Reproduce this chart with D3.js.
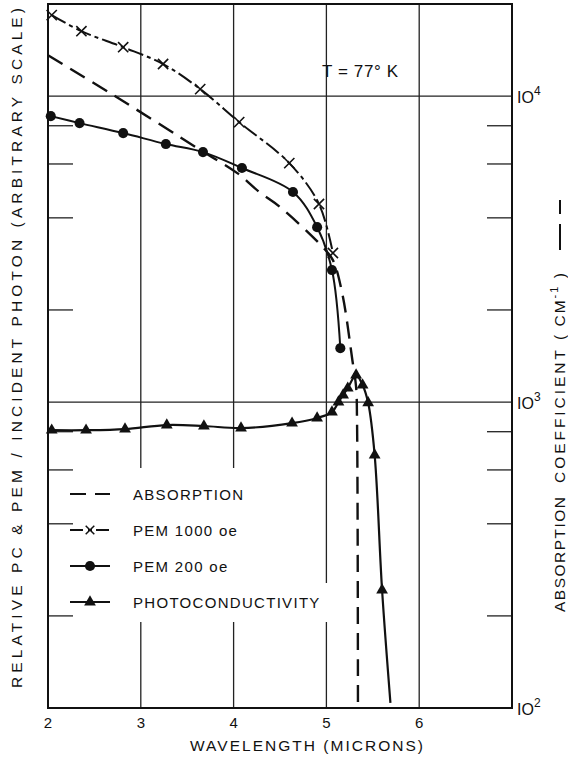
<!DOCTYPE html>
<html>
<head>
    <meta http-equiv="content-type" content="text/html; charset=utf-8">
    <title>PEM / PC / Absorption</title>
    <script src="https://cdn.jsdelivr.net/npm/d3@7/dist/d3.min.js"></script>
    <style>
        body { margin: 0; background: white; }
        svg text { font-family: "Liberation Sans", "DejaVu Sans", sans-serif; fill: #111; }
    </style>
</head>
<body>
    <svg width="568" height="761" id="mainsvg"></svg>
    <script>
        // ---- data ----
        const wavelengthTicks = [2, 3, 4, 5, 6];
        const gridWaves = [3, 4, 5, 6];
        const decadeValues = [100, 1000, 10000];
        const decadeExps = ['2', '3', '4'];
        const minorValues = [200, 400, 600, 800, 2000, 4000, 6000, 8000];

        const absWave = [2.0, 2.67, 3.64, 4.04, 4.28, 4.50, 4.96, 5.07, 5.17, 5.28, 5.32, 5.33, 5.34];
        const absValue = [13600, 10230, 6670, 5600, 4850, 4340, 3210, 2910, 2270, 1370, 1120, 870, 100];

        const pem1000Wave = [2.04, 2.36, 2.81, 3.24, 3.64, 4.06, 4.60, 4.92, 5.07];
        const pem1000Value = [18400, 16300, 14450, 12730, 10540, 8220, 6040, 4440, 3070];

        const pem200Wave = [2.03, 2.34, 2.81, 3.27, 3.67, 4.09, 4.64, 4.90, 5.06, 5.15];
        const pem200Value = [8600, 8160, 7570, 6970, 6560, 5820, 4860, 3730, 2700, 1500];

        const pcWave = [2.04, 2.41, 2.83, 3.28, 3.68, 4.08, 4.63, 4.90, 5.06, 5.13, 5.18, 5.23, 5.32, 5.39, 5.45, 5.52, 5.60];
        const pcValue = [809, 809, 816, 841, 835, 822, 853, 887, 927, 1000, 1054, 1110, 1225, 1137, 994, 671, 243];
        const pcTailWave = [5.69];
        const pcTailValue = [104];

        const legendLabels = ['ABSORPTION', 'PEM 1000 oe', 'PEM 200 oe', 'PHOTOCONDUCTIVITY'];

        // ---- layout ----
        const svg = d3.select('#mainsvg');
        const plotLeft = 48, plotRight = 512, plotTop = 4, plotBottom = 708;

        const xScale = d3.scaleLinear().domain([2, 7]).range([plotLeft, plotRight]);
        const yScale = d3.scaleLog().domain([100, 20000]).range([plotBottom, plotTop]);

        const zip = (xs, ys) => xs.map((x, i) => [x, ys[i]]);
        const line = d3.line()
            .x(d => xScale(d[0]))
            .y(d => yScale(d[1]))
            .curve(d3.curveCatmullRom.alpha(0.5));

        const g = svg.append('g');

        // grid
        g.selectAll('.vgrid').data(gridWaves).join('line')
            .attr('class', 'vgrid')
            .attr('x1', d => xScale(d)).attr('x2', d => xScale(d))
            .attr('y1', plotTop).attr('y2', plotBottom)
            .attr('stroke', '#222').attr('stroke-width', 1.3);
        g.selectAll('.hgrid').data([1000, 10000]).join('line')
            .attr('class', 'hgrid')
            .attr('x1', plotLeft).attr('x2', plotRight)
            .attr('y1', d => yScale(d)).attr('y2', d => yScale(d))
            .attr('stroke', '#222').attr('stroke-width', 1.3);

        // gaps in the grid where the legend sits
        g.append('rect').attr('x', 56).attr('y', 468).attr('width', 250).attr('height', 154).attr('fill', 'white');
        g.append('rect').attr('x', 300).attr('y', 583).attr('width', 40).attr('height', 39).attr('fill', 'white');

        // minor ticks on both sides
        g.selectAll('.ltick').data(minorValues).join('line')
            .attr('class', 'ltick')
            .attr('x1', plotLeft).attr('x2', plotLeft + 25)
            .attr('y1', d => yScale(d)).attr('y2', d => yScale(d))
            .attr('stroke', '#222').attr('stroke-width', 1.3);
        g.selectAll('.rtick').data(minorValues).join('line')
            .attr('class', 'rtick')
            .attr('x1', plotRight - 25).attr('x2', plotRight)
            .attr('y1', d => yScale(d)).attr('y2', d => yScale(d))
            .attr('stroke', '#222').attr('stroke-width', 1.3);

        // frame
        g.append('rect').attr('x', plotLeft).attr('y', plotTop)
            .attr('width', plotRight - plotLeft).attr('height', plotBottom - plotTop)
            .attr('fill', 'none').attr('stroke', '#111').attr('stroke-width', 2);

        // x tick labels
        g.selectAll('.xlab').data(wavelengthTicks).join('text')
            .attr('class', 'xlab')
            .attr('x', d => xScale(d)).attr('y', plotBottom + 20)
            .attr('text-anchor', 'middle').attr('font-size', 15)
            .text(d => d);

        // right decade labels
        const dec = g.selectAll('.ylab').data(decadeValues).join('text')
            .attr('class', 'ylab')
            .attr('x', plotRight + 5).attr('y', d => yScale(d) + 7)
            .attr('font-size', 16);
        dec.append('tspan').text('IO');
        dec.append('tspan').attr('dy', -8).attr('font-size', 12).text((d, i) => decadeExps[i]);

        // curves
        g.append('path').attr('d', line(zip(absWave, absValue)))
            .attr('fill', 'none').attr('stroke', '#111').attr('stroke-width', 2.4)
            .attr('stroke-dasharray', '17,9');

        g.append('path').attr('d', line(zip(pem1000Wave, pem1000Value)))
            .attr('fill', 'none').attr('stroke', '#111').attr('stroke-width', 2)
            .attr('stroke-dasharray', '16,4,4,4');

        g.append('path').attr('d', line(zip(pem200Wave, pem200Value)))
            .attr('fill', 'none').attr('stroke', '#111').attr('stroke-width', 2);

        g.append('path').attr('d', line(zip(pcWave, pcValue).concat(zip(pcTailWave, pcTailValue))))
            .attr('fill', 'none').attr('stroke', '#111').attr('stroke-width', 2.2);

        // markers
        const cross = d3.symbol().type(d3.symbolX).size(70);
        const dot = d3.symbol().type(d3.symbolCircle).size(80);
        const tri = d3.symbol().type(d3.symbolTriangle).size(60);

        g.selectAll('.m1000').data(zip(pem1000Wave, pem1000Value)).join('path')
            .attr('class', 'm1000')
            .attr('transform', d => `translate(${xScale(d[0])},${yScale(d[1])})`)
            .attr('d', cross).attr('fill', 'none').attr('stroke', '#111').attr('stroke-width', 1.6);
        g.selectAll('.m200').data(zip(pem200Wave, pem200Value)).join('path')
            .attr('class', 'm200')
            .attr('transform', d => `translate(${xScale(d[0])},${yScale(d[1])})`)
            .attr('d', dot).attr('fill', '#111');
        g.selectAll('.mpc').data(zip(pcWave, pcValue)).join('path')
            .attr('class', 'mpc')
            .attr('transform', d => `translate(${xScale(d[0])},${yScale(d[1])})`)
            .attr('d', tri).attr('fill', '#111');

        // legend
        const legend = g.append('g').attr('transform', 'translate(70, 494)');
        const rows = legend.selectAll('.row').data(legendLabels).join('g')
            .attr('class', 'row')
            .attr('transform', (d, i) => `translate(0, ${i * 36})`);
        rows.append('text').attr('x', 63).attr('y', 6)
            .attr('font-size', 15).attr('letter-spacing', 1.3)
            .text(d => d);
        rows.append('line').attr('x1', 0).attr('x2', 40).attr('y1', 0).attr('y2', 0)
            .attr('stroke', '#111').attr('stroke-width', (d, i) => i === 0 ? 2.2 : 2)
            .attr('stroke-dasharray', (d, i) => i === 0 ? '16,9,16' : (i === 1 ? '13,5,4,4,13' : null));
        rows.filter((d, i) => i === 1).append('path').attr('transform', 'translate(20,0)')
            .attr('d', d3.symbol().type(d3.symbolX).size(50)).attr('fill', 'none').attr('stroke', '#111').attr('stroke-width', 1.5);
        rows.filter((d, i) => i === 2).append('path').attr('transform', 'translate(20,0)')
            .attr('d', dot).attr('fill', '#111');
        rows.filter((d, i) => i === 3).append('path').attr('transform', 'translate(20,0)')
            .attr('d', tri).attr('fill', '#111');

        // annotation
        g.append('text').attr('x', 322).attr('y', 77).attr('font-size', 17)
            .attr('textLength', 76).attr('lengthAdjust', 'spacing')
            .text('T = 77° K');

        // axis titles
        g.append('text').attr('x', 190).attr('y', 751).attr('font-size', 15.5)
            .attr('textLength', 233).attr('lengthAdjust', 'spacing')
            .text('WAVELENGTH  (MICRONS)');

        g.append('text').attr('transform', 'translate(22, 688) rotate(-90)')
            .attr('font-size', 15.5)
            .attr('textLength', 680).attr('lengthAdjust', 'spacing')
            .text('RELATIVE  PC  &  PEM / INCIDENT  PHOTON    (ARBITRARY  SCALE)');

        // right title, written in pieces so each word lands where it does in the figure
        const rtitle = g.append('g').attr('transform', 'translate(565, 612) rotate(-90)');
        rtitle.append('text').attr('x', 0).attr('font-size', 15.5)
            .attr('textLength', 115).attr('lengthAdjust', 'spacing').text('ABSORPTION');
        rtitle.append('text').attr('x', 129).attr('font-size', 15.5)
            .attr('textLength', 133).attr('lengthAdjust', 'spacing').text('COEFFICIENT');
        const cm = rtitle.append('text').attr('x', 272).attr('font-size', 15.5).attr('letter-spacing', 2);
        cm.append('tspan').text('( CM');
        cm.append('tspan').attr('dy', -7).attr('font-size', 11).text('-1');
        cm.append('tspan').attr('dy', 7).text(' )');
        rtitle.append('line').attr('x1', 362).attr('x2', 412).attr('y1', -5).attr('y2', -5)
            .attr('stroke', '#111').attr('stroke-width', 2).attr('stroke-dasharray', '26,10,14');
    </script>
</body>
</html>
